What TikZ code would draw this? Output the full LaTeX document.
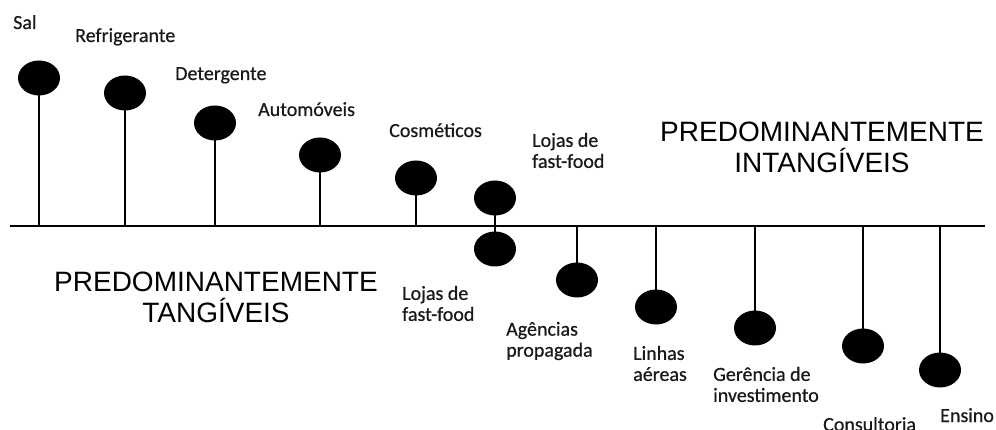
\documentclass[tikz,border=0pt]{standalone}
\usepackage{fontspec}
\setmainfont{Carlito}[FakeBold=0.6]
\newfontfamily\lblfont{Carlito}[AutoFakeBold=0.6]
\newfontfamily\bigfont{Liberation Sans}
\usetikzlibrary{shapes.geometric}
\begin{document}
\begin{tikzpicture}[x=1pt,y=-1pt,
  dot/.style={ellipse,fill=black,draw=none,minimum width=42pt,minimum height=35pt,inner sep=0pt},
  stem/.style={line width=1.6pt,black},
  lbl/.style={font=\lblfont\bfseries\fontsize{20}{21}\selectfont,inner sep=0pt,text=black!90,align=left},
  big/.style={font=\bigfont\fontsize{28}{31}\selectfont,inner sep=0pt,text=black,align=center}]
\useasboundingbox (0,0) rectangle (996,430);
\coordinate (axL) at (10,226);
\coordinate (axR) at (985,226);
\draw[stem] (axL) -- (axR);
% upper lollipops
\node[dot] (sal) at (39,78) {};
\node[dot] (refr) at (125,93) {};
\node[dot] (det) at (215,123) {};
\node[dot] (auto) at (320,155) {};
\node[dot] (cosm) at (416,178) {};
\node[dot] (fft) at (495,198) {};
\node[dot] (ffb) at (495,249) {};
% lower lollipops
\node[dot] (agen) at (577,280) {};
\node[dot] (linh) at (656,307) {};
\node[dot] (ger) at (755,328) {};
\node[dot] (cons) at (863,346) {};
\node[dot] (ens) at (940,370) {};
\foreach \n in {sal,refr,det,auto,cosm,agen,linh,ger,cons,ens}
  \draw[stem] (\n.center) -- (\n.center |- axL);
\draw[stem] (fft.center) -- (ffb.center);
% labels
\node[lbl,anchor=base west] (tsal) at (13,29) {Sal};
\node[lbl,anchor=base west] (trefr) at (75,42) {Refrigerante};
\node[lbl,anchor=base west] (tdet) at (175,80) {Detergente};
\node[lbl,anchor=base west] (tauto) at (258,116) {Automóveis};
\node[lbl,anchor=base west] (tcosm) at (389,137) {Cosméticos};
\node[lbl,anchor=west] (tfft) at (532,150.5) {Lojas de\\fast-food};
\node[lbl,anchor=west] (tffb) at (402,303.5) {Lojas de\\fast-food};
\node[lbl,anchor=west] (tagen) at (506,341) {Agências\\propagada};
\node[lbl,anchor=west] (tlinh) at (633,363.5) {Linhas\\aéreas};
\node[lbl,anchor=west] (tger) at (713,384.5) {Gerência de\\investimento};
\node[lbl,anchor=base west] (tcons) at (823,431) {Consultoria};
\node[lbl,anchor=base west] (tens) at (940,422) {Ensino};
\node[big] (intang) at (822,147.5) {PREDOMINANTEMENTE\\INTANGÍVEIS};
\node[big] (tang) at (216,297) {PREDOMINANTEMENTE\\TANGÍVEIS};
\end{tikzpicture}
\end{document}
